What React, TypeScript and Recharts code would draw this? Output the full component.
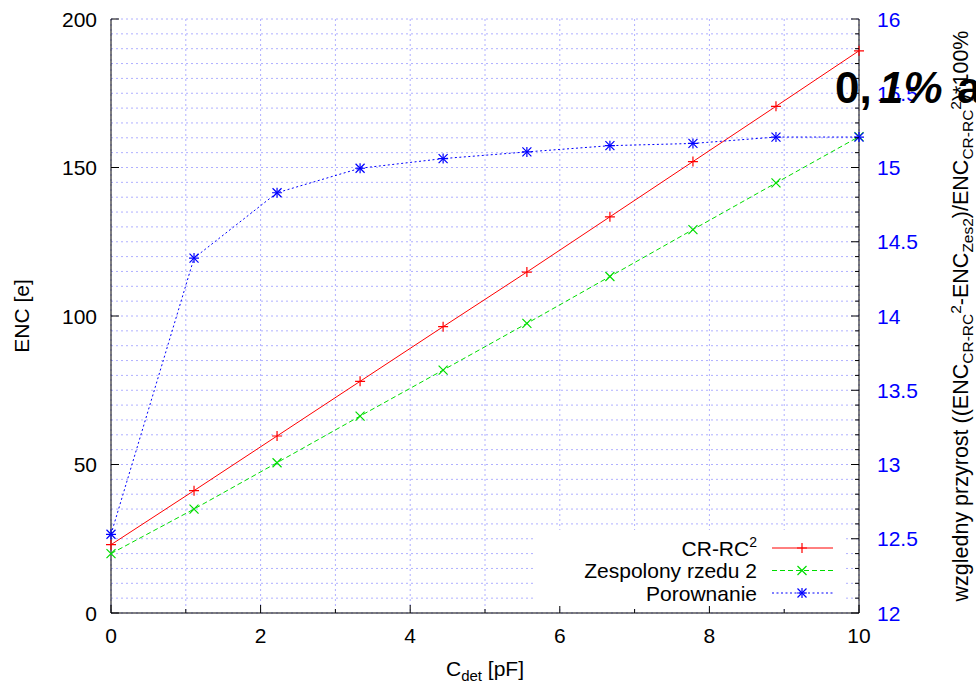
import React from "react";
import { ComposedChart, Line, XAxis, YAxis, CartesianGrid } from "recharts";

// C_det [pF] sample points
const cdet = [0, 1.11, 2.22, 3.33, 4.44, 5.56, 6.67, 7.78, 8.89, 10];
// ENC [e] – left axis
const encCrRc2 = [23, 41.2, 59.6, 78, 96.4, 114.8, 133.4, 152, 170.6, 189.3];
const encZes2 = [20, 35, 50.6, 66.3, 81.8, 97.5, 113.3, 129.1, 144.8, 160.4];
// relative increase [%] – right axis
const porownanie = [12.53, 14.39, 14.83, 14.995, 15.06, 15.105, 15.147, 15.162, 15.205, 15.205];

const xTicks = [0, 1, 2, 3, 4, 5, 6, 7, 8, 9, 10];
const xLabels = [0, 2, 4, 6, 8, 10];
const leftTicks = [0, 50, 100, 150, 200];
const rightLabels = [12, 12.5, 13, 13.5, 14, 14.5, 15, 15.5, 16];
const rightTicks = Array.from({ length: 41 }, (_, i) => +(12 + i * 0.1).toFixed(1));

const legendNames = ["CR-RC", "Zespolony rzedu 2", "Porownanie"];

const data = cdet.map((c, i) => ({
  c,
  crrc: encCrRc2[i],
  zes: encZes2[i],
  por: porownanie[i],
}));

const FONT = "'Liberation Sans', Arial, Helvetica, sans-serif";
const FS = 21;
const RED = "#ff0000";
const GREEN = "#00dd00";
const BLUE = "#0000ff";
const GRID = "#b0b0ff";

const markPlus = (cx: number, cy: number, c: string) => (
  <path d={`M${cx - 5} ${cy}H${cx + 5}M${cx} ${cy - 5}V${cy + 5}`} stroke={c} strokeWidth={1.2} fill="none" />
);
const markCross = (cx: number, cy: number, c: string) => (
  <path
    d={`M${cx - 4.5} ${cy - 4.5}L${cx + 4.5} ${cy + 4.5}M${cx - 4.5} ${cy + 4.5}L${cx + 4.5} ${cy - 4.5}`}
    stroke={c}
    strokeWidth={1.2}
    fill="none"
  />
);
const markStar = (cx: number, cy: number, c: string) => (
  <g>
    {markPlus(cx, cy, c)}
    {markCross(cx, cy, c)}
  </g>
);

const isMajorX = (v: number) => xLabels.includes(v);
const isMajorR = (v: number) => Math.abs(v * 2 - Math.round(v * 2)) < 1e-6;

const BottomTick = (p: any) => {
  const { x, y, payload } = p;
  const major = isMajorX(payload.value);
  return (
    <g>
      <line x1={x} x2={x} y1={y} y2={y - (major ? 8 : 4)} stroke="#000" />
      {major && (
        <text x={x} y={y + 30} textAnchor="middle" fontSize={FS} fontFamily={FONT} fill="#000">
          {payload.value}
        </text>
      )}
    </g>
  );
};

const TopTick = (p: any) => {
  const { x, y, payload } = p;
  const major = isMajorX(payload.value);
  return <line x1={x} x2={x} y1={y} y2={y + (major ? 8 : 4)} stroke="#000" />;
};

const LeftTick = (p: any) => {
  const { x, y, payload } = p;
  return (
    <g>
      <line x1={x} x2={x + 8} y1={y} y2={y} stroke="#000" />
      <text x={x - 14} y={y + 7.5} textAnchor="end" fontSize={FS} fontFamily={FONT} fill="#000">
        {payload.value}
      </text>
    </g>
  );
};

const RightTick = (p: any) => {
  const { x, y, payload } = p;
  const major = isMajorR(payload.value);
  return (
    <g>
      <line x1={x} x2={x - (major ? 8 : 4)} y1={y} y2={y} stroke="#000" />
      {major && rightLabels.includes(payload.value) && (
        <text x={x + 18} y={y + 7.5} textAnchor="start" fontSize={FS} fontFamily={FONT} fill={BLUE}>
          {payload.value}
        </text>
      )}
    </g>
  );
};

const XTitle = (p: any) => {
  const vb = p.viewBox;
  return (
    <text x={vb.x + vb.width / 2} y={vb.y + 63} textAnchor="middle" fontSize={FS} fontFamily={FONT} fill="#000">
      C<tspan fontSize={15} dy={5}>det</tspan>
      <tspan dy={-5}> [pF]</tspan>
    </text>
  );
};

const LeftTitle = (p: any) => {
  const vb = p.viewBox;
  const cx = 29;
  const cy = vb.y + vb.height / 2;
  return (
    <text x={cx} y={cy} transform={`rotate(-90 ${cx} ${cy})`} textAnchor="middle" fontSize={FS} fontFamily={FONT} fill="#000">
      ENC [e]
    </text>
  );
};

const RightTitle = (p: any) => {
  const vb = p.viewBox;
  const cx = vb.x + 109;
  const cy = vb.y + vb.height / 2;
  return (
    <text x={cx} y={cy} transform={`rotate(-90 ${cx} ${cy})`} textAnchor="middle" fontSize={21.5} fontFamily={FONT} fill="#000">
      wzgledny przyrost ((ENC
      <tspan fontSize={15.5} dy={5}>CR-RC</tspan>
      <tspan fontSize={15.5} dy={-12}>2</tspan>
      <tspan dy={7}>-ENC</tspan>
      <tspan fontSize={15.5} dy={5}>Zes2</tspan>
      <tspan dy={-5}>)/ENC</tspan>
      <tspan fontSize={15.5} dy={5}>CR-RC</tspan>
      <tspan fontSize={15.5} dy={-12}>2</tspan>
      <tspan dy={7}>)*100%</tspan>
    </text>
  );
};

const legendMarks = [markPlus, markCross, markStar];
const legendColors = [RED, GREEN, BLUE];
const legendDash = [undefined, "5 3", "2 2.5"];

export default function App() {
  return (
    <div style={{ position: "absolute", left: 0, top: 0, width: 976, height: 684, background: "#fff", overflow: "hidden" }}>
      <ComposedChart width={976} height={684} data={data} margin={{ top: 19, right: 0, bottom: 0, left: 0 }}>
        <CartesianGrid xAxisId="x" yAxisId="r" stroke={GRID} strokeDasharray="2 3" />
        <XAxis
          xAxisId="x"
          dataKey="c"
          type="number"
          domain={[0, 10]}
          ticks={xTicks}
          interval={0}
          height={71}
          tickSize={0}
          tickMargin={0}
          tickLine={false}
          axisLine={{ stroke: "#000" }}
          tick={BottomTick}
          label={XTitle}
        />
        <XAxis
          xAxisId="top"
          orientation="top"
          dataKey="c"
          type="number"
          domain={[0, 10]}
          ticks={xTicks}
          interval={0}
          height={0}
          tickSize={0}
          tickMargin={0}
          tickLine={false}
          axisLine={{ stroke: "#000" }}
          tick={TopTick}
        />
        <YAxis
          yAxisId="l"
          type="number"
          domain={[0, 200]}
          ticks={leftTicks}
          interval={0}
          width={111}
          tickSize={0}
          tickMargin={0}
          tickLine={false}
          axisLine={{ stroke: "#000" }}
          tick={LeftTick}
          label={LeftTitle}
        />
        <YAxis
          yAxisId="r"
          orientation="right"
          type="number"
          domain={[12, 16]}
          ticks={rightTicks}
          interval={0}
          width={117}
          tickSize={0}
          tickMargin={0}
          tickLine={false}
          axisLine={{ stroke: "#000" }}
          tick={RightTick}
          label={RightTitle}
        />
        <Line
          xAxisId="x"
          yAxisId="l"
          dataKey="crrc"
          stroke={RED}
          strokeWidth={1}
          isAnimationActive={false}
          dot={(p: any) => <g key={`a${p.index}`}>{markPlus(p.cx, p.cy, RED)}</g>}
          activeDot={false}
        />
        <Line
          xAxisId="x"
          yAxisId="l"
          dataKey="zes"
          stroke={GREEN}
          strokeWidth={1}
          strokeDasharray="5 3"
          isAnimationActive={false}
          dot={(p: any) => <g key={`b${p.index}`}>{markCross(p.cx, p.cy, GREEN)}</g>}
          activeDot={false}
        />
        <Line
          xAxisId="x"
          yAxisId="r"
          dataKey="por"
          stroke={BLUE}
          strokeWidth={1}
          strokeDasharray="2 2.5"
          isAnimationActive={false}
          dot={(p: any) => <g key={`c${p.index}`}>{markStar(p.cx, p.cy, BLUE)}</g>}
          activeDot={false}
        />
      </ComposedChart>
      <svg width={976} height={684} style={{ position: "absolute", left: 0, top: 0, pointerEvents: "none" }}>
        <rect x={535} y={530} width={311} height={76} fill="#fff" />
        {legendNames.map((name, i) => {
          const cy = 548 + i * 22.5;
          return (
            <g key={name}>
              <text x={757} y={cy + 7.5} textAnchor="end" fontSize={FS} fontFamily={FONT} fill="#000">
                {name}
                {i === 0 && (
                  <tspan fontSize={14} dy={-9}>
                    2
                  </tspan>
                )}
              </text>
              <line x1={772} x2={833} y1={cy} y2={cy} stroke={legendColors[i]} strokeDasharray={legendDash[i]} />
              {legendMarks[i](802, cy, legendColors[i])}
            </g>
          );
        })}
        <text y={103} fontSize={44} fontWeight="bold" fontFamily={FONT} fill="#000">
          <tspan x={835}>0,</tspan>
          <tspan x={879} fontStyle="italic">1%</tspan>
          <tspan x={957}>a</tspan>
        </text>
      </svg>
    </div>
  );
}
